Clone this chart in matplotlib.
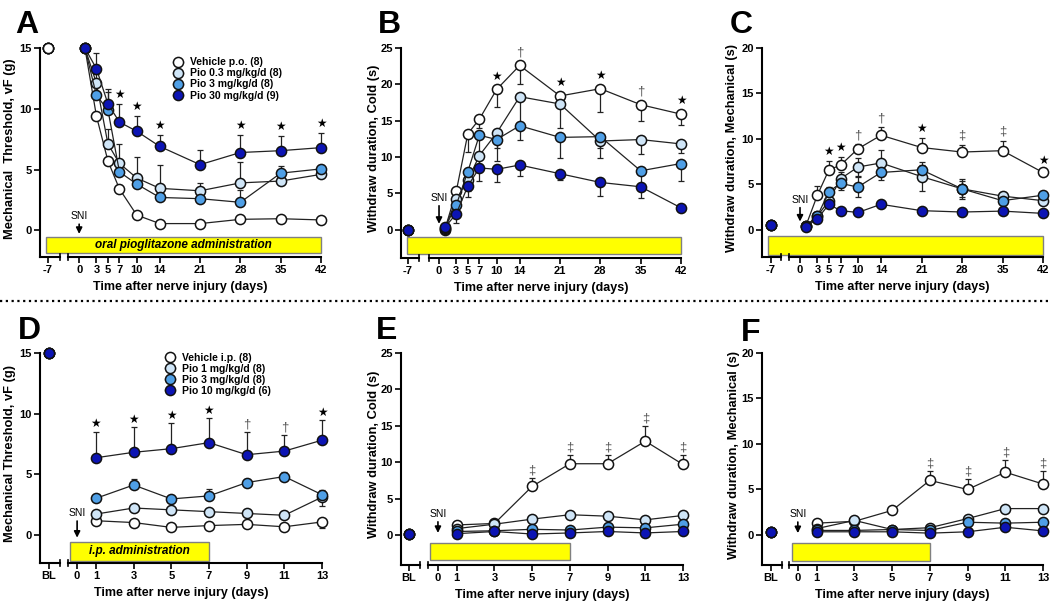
import matplotlib
matplotlib.use('Agg')
import matplotlib.pyplot as plt
import matplotlib.transforms as mtransforms
from matplotlib.patches import Rectangle
from matplotlib.lines import Line2D

plt.rcParams['font.family'] = ['Liberation Sans', 'DejaVu Sans']
plt.rcParams['font.weight'] = 'bold'
plt.rcParams['axes.labelweight'] = 'bold'

# ---- data -------------------------------------------------------------
days_po = [1, 3, 5, 7, 10, 14, 21, 28, 35, 42]
days_ip = [1, 3, 5, 7, 9, 11, 13]
ticks_po = [0, 3, 5, 7, 10, 14, 21, 28, 35, 42]
ticks_ip = [0, 1, 3, 5, 7, 9, 11, 13]

labels_po = ['Vehicle p.o. (8)', 'Pio 0.3 mg/kg/d (8)', 'Pio 3 mg/kg/d (8)', 'Pio 30 mg/kg/d (9)']
labels_ip = ['Vehicle i.p. (8)', 'Pio 1 mg/kg/d (8)', 'Pio 3 mg/kg/d (8)', 'Pio 10 mg/kg/d (6)']

# A: von Frey threshold, oral
a_mean = [[15, 9.4, 5.7, 3.4, 1.25, 0.55, 0.55, 0.9, 0.95, 0.85],
          [15, 12.1, 7.1, 5.5, 4.3, 3.45, 3.25, 3.9, 4.05, 4.6],
          [15, 11.1, 9.9, 4.8, 3.8, 2.7, 2.6, 2.3, 4.7, 5.05],
          [15, 13.3, 10.4, 8.9, 8.15, 6.9, 5.4, 6.4, 6.55, 6.8]]
a_err = [[0.2, 0.3, 0.3, 0.3, 0.2, 0.1, 0.1, 0.2, 0.2, 0.2],
         [0.2, 0.8, 1.2, 1.6, 1.7, 1.9, 0.6, 1.7, 0.4, 0.3],
         [0.2, 0.8, 1.5, 0.8, 0.6, 0.4, 0.4, 1.0, 0.6, 0.3],
         [0.2, 1.3, 1.2, 1.5, 1.25, 0.95, 1.2, 1.45, 1.2, 1.2]]
a_base = [15, 15, 15, 15]
a_sig = [(7, '★'), (10, '★'), (14, '★'), (28, '★'), (35, '★'), (42, '★')]

# B: cold, oral
b_mean = [[0.0, 5.3, 13.2, 15.2, 19.3, 22.6, 18.4, 19.4, 17.2, 15.9],
          [0.1, 4.2, 6.8, 10.2, 13.3, 18.3, 17.3, 12.2, 12.4, 11.8],
          [0.2, 3.4, 8.0, 13.0, 12.4, 14.3, 12.7, 12.8, 8.1, 9.1],
          [0.3, 2.2, 6.0, 8.5, 8.3, 8.9, 7.7, 6.5, 5.9, 3.0]]
b_err = [[0.2, 1.0, 2.5, 1.2, 2.4, 2.5, 1.0, 3.2, 2.3, 1.5],
         [0.2, 1.0, 1.5, 1.5, 2.0, 4.0, 3.3, 1.0, 2.0, 1.2],
         [0.2, 0.8, 1.5, 2.5, 3.0, 1.9, 2.8, 3.0, 1.8, 2.4],
         [0.2, 1.3, 1.5, 1.8, 1.7, 1.5, 0.9, 1.8, 1.5, 0.4]]
b_base = [0, 0, 0, 0]
b_sig = [(10, '★'), (14, '†'), (21, '★'), (28, '★'), (35, '†'), (42, '★')]

# C: mechanical duration, oral
c_mean = [[0.4, 3.8, 6.6, 7.1, 8.9, 10.4, 9.05, 8.55, 8.7, 6.3],
          [0.4, 1.5, 3.2, 5.6, 6.9, 7.35, 5.85, 4.5, 3.7, 3.2],
          [0.4, 1.5, 4.2, 5.1, 4.7, 6.3, 6.6, 4.5, 3.2, 3.8],
          [0.35, 1.2, 2.8, 2.1, 1.9, 2.8, 2.1, 1.95, 2.05, 1.8]]
c_err = [[0.1, 1.0, 1.0, 0.9, 0.5, 0.9, 1.1, 0.8, 1.1, 0.3],
         [0.1, 0.3, 0.5, 0.8, 1.0, 1.4, 1.6, 1.1, 0.5, 0.4],
         [0.1, 0.3, 0.5, 0.7, 1.1, 0.8, 0.5, 0.9, 0.4, 0.3],
         [0.1, 0.2, 0.2, 0.2, 0.2, 0.2, 0.2, 0.2, 0.2, 0.2]]
c_base = [0.5, 0.5, 0.5, 0.5]
c_sig = [(5, '★'), (7, '★'), (10, '†'), (14, '†'), (21, '★'), (28, '‡'), (35, '‡'), (42, '★')]

# D: von Frey threshold, i.p.
d_mean = [[1.15, 1.0, 0.6, 0.75, 0.85, 0.65, 1.05],
          [1.7, 2.2, 2.05, 1.9, 1.75, 1.6, 3.1],
          [3.0, 4.1, 2.95, 3.2, 4.3, 4.8, 3.3],
          [6.35, 6.8, 7.1, 7.6, 6.6, 6.9, 7.8]]
d_err = [[0.2, 0.2, 0.2, 0.2, 0.2, 0.2, 0.5],
         [0.2, 0.2, 0.2, 0.2, 0.2, 0.2, 0.7],
         [0.2, 0.5, 0.2, 0.6, 0.3, 0.4, 0.4],
         [2.15, 2.1, 2.1, 2.0, 1.85, 1.3, 1.65]]
d_base = [15, 15, 15, 15]
d_sig = [(1, '★'), (3, '★'), (5, '★'), (7, '★'), (9, '†'), (11, '†'), (13, '★')]

# E: cold, i.p.
e_mean = [[1.4, 1.6, 6.7, 9.8, 9.8, 12.9, 9.7],
          [0.9, 1.5, 2.2, 2.8, 2.6, 2.1, 2.7],
          [0.5, 0.6, 0.8, 0.7, 1.1, 1.0, 1.5],
          [0.2, 0.5, 0.15, 0.3, 0.5, 0.3, 0.5]]
e_err = [[0.2, 0.2, 1.2, 1.2, 1.2, 2.1, 1.3],
         [0.2, 0.2, 0.3, 0.3, 0.3, 0.3, 0.3],
         [0.1, 0.1, 0.2, 0.2, 0.2, 0.2, 0.2],
         [0.1, 0.1, 0.1, 0.1, 0.1, 0.1, 0.1]]
e_base = [0.1, 0.1, 0.1, 0.1]
e_sig = [(5, '‡'), (7, '‡'), (9, '‡'), (11, '‡'), (13, '‡')]

# F: mechanical duration, i.p.
f_mean = [[1.3, 1.5, 2.7, 6.0, 5.0, 6.9, 5.6],
          [0.7, 1.6, 0.6, 0.8, 1.8, 2.9, 2.9],
          [0.5, 0.5, 0.6, 0.5, 1.4, 1.3, 1.4],
          [0.35, 0.35, 0.35, 0.2, 0.35, 0.85, 0.45]]
f_err = [[0.2, 0.2, 0.2, 1.0, 1.15, 1.3, 1.4],
         [0.1, 0.2, 0.1, 0.1, 0.2, 0.2, 0.2],
         [0.1, 0.1, 0.1, 0.1, 0.2, 0.2, 0.2],
         [0.1, 0.1, 0.1, 0.1, 0.1, 0.1, 0.1]]
f_base = [0.3, 0.3, 0.3, 0.3]
f_sig = [(7, '‡'), (9, '‡'), (11, '‡'), (13, '‡')]

colors = ['#ffffff', '#cfe5f7', '#4f9fe6', '#0c14b4']

W, H = 1050, 605
fig = plt.figure(figsize=(W / 100, H / 100), dpi=100)


def add_axes(l, t, r, b):
    return fig.add_axes([l / W, 1 - b / H, (r - l) / W, (b - t) / H])


def panel(ax, days, means, errs, dirs, base, sig, sig_ref, cfg):
    ax.set_xlim(cfg['xlim'])
    ax.set_ylim(cfg['ylim'])
    for k in range(4):
        e = errs[k]
        lo = e if dirs[k] in ('down', 'both') else [0] * len(e)
        hi = e if dirs[k] in ('up', 'both') else [0] * len(e)
        ax.errorbar(days, means[k], yerr=[lo, hi], fmt='none', ecolor='#222222',
                    elinewidth=0.9, capsize=2, capthick=0.9, zorder=2, clip_on=False)
        ax.plot(days, means[k], '-o', color='#222222', lw=0.9, mfc=colors[k], mec='#111111',
                ms=7.3, mew=1.1, zorder=3 + k * 0.1, clip_on=False,
                label=cfg['labels'][k] if cfg['labels'] else None)
    order = range(3, -1, -1) if cfg.get('base_rev') else range(4)
    for z, k in enumerate(order):
        ax.plot([cfg['bl_pos']], [base[k]], 'o', mfc=colors[k], mec='#111111', ms=7.3, mew=1.1,
                zorder=3 + z * 0.1, clip_on=False)

    # significance symbols
    r = sig_ref
    for d, s in sig:
        i = days.index(d)
        y = means[r][i]
        if dirs[r] in ('up', 'both'):
            y += errs[r][i]
        star = s == '★'
        ax.annotate(s, (d, y), xytext=(0, cfg['sig_off']), textcoords='offset points',
                    ha='center', va='bottom', fontsize=8.5 if star else 9.5,
                    color='k' if star else '#555555', fontweight='normal')

    # yellow treatment bar
    x0, x1, y0, y1 = cfg['bar']
    ax.add_patch(Rectangle((x0, y0), x1 - x0, y1 - y0, facecolor='#ffff00', edgecolor='#808080',
                           lw=1, zorder=1, clip_on=False))
    if cfg.get('bar_text'):
        ax.text((x0 + x1) / 2, (y0 + y1) / 2, cfg['bar_text'], ha='center', va='center',
                fontsize=8.5, style='italic', fontweight='bold', zorder=2)

    ax.annotate('SNI', xy=(0, cfg['sni']), xytext=(0, cfg['sni_off']), textcoords='offset points',
                ha='center', va='bottom', fontsize=7.5, fontweight='normal',
                arrowprops=dict(arrowstyle='-|>', color='k', lw=1.2, shrinkA=0, shrinkB=0,
                                mutation_scale=9))

    # axes styling, broken x axis
    for s in ('top', 'right', 'bottom'):
        ax.spines[s].set_visible(False)
    ax.spines['left'].set_linewidth(1.5)
    trans = mtransforms.blended_transform_factory(ax.transData, ax.transAxes)
    b0, b1 = cfg['brk']
    for xa, xb in [(cfg['xlim'][0], b0), (b1, cfg['xlim'][1])]:
        ax.add_line(Line2D([xa, xb], [0, 0], transform=trans, color='k', lw=1.5, clip_on=False))
    for xb in (b0, b1):
        ax.add_line(Line2D([xb, xb], [-0.015, 0.015], transform=trans, color='k', lw=1.2,
                           clip_on=False))

    ax.set_xticks([cfg['bl_pos']] + cfg['ticks'])
    ax.set_xticklabels([cfg['bl_label']] + [str(t) for t in cfg['ticks']], fontweight='bold')
    ax.set_yticks(cfg['yticks'])
    ax.set_yticklabels([str(t) for t in cfg['yticks']], fontweight='bold')
    ax.tick_params(direction='out', length=4, width=1.2, labelsize=8, pad=2)
    ax.set_xlabel('Time after nerve injury (days)', fontsize=9, labelpad=4, fontweight='bold')
    ax.set_ylabel(cfg['ylabel'], fontsize=9.3, fontweight='bold')
    ax.yaxis.set_label_coords(cfg['ylab_x'], 0.52)
    if cfg['labels']:
        ax.legend(loc='upper left', bbox_to_anchor=cfg['leg'], frameon=False, fontsize=7.5,
                  handlelength=0.9, handletextpad=0.7, labelspacing=0.1, borderaxespad=0,
                  borderpad=0)


top = dict(ticks=ticks_po, bl_label='-7', sig_off=2)
bot = dict(ticks=ticks_ip, bl_label='BL', sig_off=1)

axA = add_axes(40, 48, 321, 257)
panel(axA, days_po, a_mean, a_err, ['up'] * 4, a_base, a_sig, 3, dict(
    top, xlim=(-6.8, 42), ylim=(-2.2, 15), yticks=[0, 5, 10, 15], bl_pos=-5.4, brk=(-3.3, -1.9),
    bar=(-5.7, 42, -1.87, -0.55), bar_text='oral pioglitazone administration', sni=-0.3, sni_off=9,
    ylabel='Mechanical  Threshold, vF (g)', ylab_x=-0.085, labels=labels_po, leg=(0.474, 0.955),
    base_rev=True))

axB = add_axes(401, 48, 681, 258)
panel(axB, days_po, b_mean, b_err, ['down'] * 4, b_base, b_sig, 0, dict(
    top, xlim=(-6.6, 42), ylim=(-3.9, 25), yticks=[0, 5, 10, 15, 20, 25], bl_pos=-5.4,
    brk=(-3.5, -1.7), bar=(-5.55, 42, -3.3, -1.0), sni=0.8, sni_off=15, sig_off=5,
    ylabel='Withdraw duration, Cold (s)', ylab_x=-0.075, labels=None))

axC = add_axes(762, 48, 1043, 257)
panel(axC, days_po, c_mean, c_err, ['up', 'both', 'both', 'up'], c_base, c_sig, 0, dict(
    top, xlim=(-6.57, 42), ylim=(-3.0, 20), yticks=[0, 5, 10, 15, 20], bl_pos=-5.0,
    brk=(-3.3, -1.9), bar=(-5.5, 42, -2.75, -0.73), sni=0.9, sni_off=12,
    ylabel='Withdraw duration, Mechanical (s)', ylab_x=-0.085, labels=None))

axD = add_axes(40, 353, 322, 563)
panel(axD, days_ip, d_mean, d_err, ['down', 'down', 'up', 'up'], d_base, d_sig, 3, dict(
    bot, xlim=(-1.97, 13), ylim=(-2.34, 15), yticks=[0, 5, 10, 15], bl_pos=-1.49,
    brk=(-0.9, -0.48), bar=(-0.37, 7.0, -2.15, -0.63), bar_text='i.p. administration',
    sni=-0.25, sni_off=14, ylabel='Mechanical Threshold, vF (g)', ylab_x=-0.085,
    labels=labels_ip, leg=(0.444, 1.0)))

axE = add_axes(401, 353, 683, 565)
panel(axE, days_ip, e_mean, e_err, ['up'] * 4, e_base, e_sig, 0, dict(
    bot, xlim=(-1.96, 13), ylim=(-4.1, 25), yticks=[0, 5, 10, 15, 20, 25], bl_pos=-1.54,
    brk=(-0.96, -0.53), bar=(-0.42, 7.0, -3.44, -1.05), sni=0.3, sni_off=10,
    ylabel='Withdraw duration, Cold (s)', ylab_x=-0.075, labels=None))

axF = add_axes(762, 353, 1043, 565)
panel(axF, days_ip, f_mean, f_err, ['up'] * 4, f_base, f_sig, 0, dict(
    bot, xlim=(-1.9, 13), ylim=(-3.3, 20), yticks=[0, 5, 10, 15, 20], bl_pos=-1.43,
    brk=(-0.85, -0.48), bar=(-0.33, 7.0, -2.83, -0.84), sni=0.2, sni_off=10,
    ylabel='Withdraw duration, Mechanical (s)', ylab_x=-0.08, labels=None))

# panel letters
for x, y, s in [(15, 33, 'A'), (378, 33, 'B'), (730, 33, 'C'),
                (18, 339, 'D'), (376, 339, 'E'), (741, 341, 'F')]:
    fig.text(x / W, 1 - y / H, s, fontsize=23, fontweight='bold', ha='left', va='baseline')

# dotted separator
fig.add_artist(Line2D([0, 1], [1 - 301 / H] * 2, transform=fig.transFigure, color='k',
                      lw=1.6, ls=(0, (1, 1.6))))

fig.savefig('out.png', dpi=100)
